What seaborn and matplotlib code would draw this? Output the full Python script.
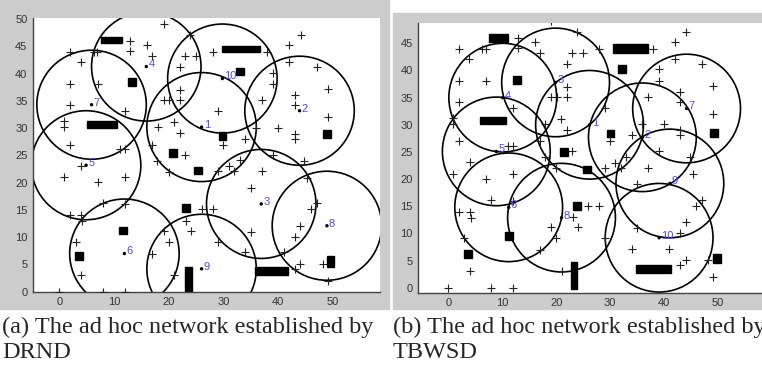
import matplotlib
matplotlib.use("Agg")
import matplotlib.pyplot as plt
import seaborn as sns
from matplotlib.patches import Circle, Rectangle

# sensor positions (same field in both runs)
SENSOR_X = [19.1, 12.9, 16.0, 12.9, 17.0, 1.9, 6.3, 6.9, 3.9, 1.9, 7.0, 1.9, 12.0, 0.9, 0.9, 1.9, 11.1, 12.0,
            18.0, 20.9, 22.0, 17.0, 23.0, 19.1, 20.1, 22.0, 22.0, 22.0, 23.0, 25.0, 23.8,
            28.0, 38.0, 44.1, 42.0, 42.0, 47.0, 39.0, 39.0, 49.1, 37.0, 43.0, 43.0, 49.1, 29.0, 40.0, 43.0, 43.0,
            36.0, 34.0, 30.0,
            44.8, 39.0, 33.0, 31.0, 32.0, 29.0, 37.1, 35.0, 45.3, 26.0, 28.0, 47.0, 46.0, 24.0, 35.0, 44.0, 43.0,
            29.0, 34.0, 41.0, 44.0, 43.0, 48.1, 49.1,
            0.9, 7.0, 12.0, 4.0, 8.0, 12.0, 2.0, 4.0, 4.2, 3.0, 4.0, 17.0, 20.0, 19.1, 21.0, 23.1, 17.9, 20.0,
            0.0, 8.0, 12.0]
SENSOR_Y = [49.1, 46.0, 45.2, 44.1, 43.2, 44.0, 44.0, 44.0, 42.2, 38.1, 38.1, 34.2, 33.1, 31.3, 30.2, 27.0, 26.1, 26.1,
            30.2, 31.1, 29.1, 27.0, 25.1, 35.2, 35.2, 35.2, 37.0, 41.2, 43.2, 43.2, 47.0,
            44.0, 44.0, 47.1, 45.2, 42.1, 41.2, 40.2, 38.1, 37.1, 35.2, 36.1, 34.2, 32.0, 33.1, 30.1, 29.0, 28.1,
            30.1, 28.1, 27.0,
            24.0, 25.1, 24.1, 23.0, 22.1, 22.1, 22.1, 19.1, 20.9, 15.1, 15.1, 16.2, 15.1, 11.1, 11.0, 12.1, 10.1,
            9.1, 7.2, 7.2, 5.1, 4.1, 5.1, 2.0,
            21.0, 20.1, 21.0, 23.1, 16.2, 16.0, 14.0, 14.0, 12.9, 9.1, 3.0, 7.0, 9.1, 11.1, 3.0, 13.0, 24.0, 22.0,
            0.0, 0.0, 0.0]

RANGE = 10  # communication radius

# cluster heads, (a) DRND
HEAD_A_X = [26.0, 43.9, 36.9, 15.9, 4.9, 11.9, 5.9, 48.9, 26.0, 29.8]
HEAD_A_Y = [30.2, 33.2, 16.1, 41.3, 23.2, 7.0, 34.3, 12.1, 4.2, 39.1]
# cluster heads, (b) TBWSD
HEAD_B_X = [26.2, 36.0, 19.9, 10.1, 8.9, 11.2, 44.2, 21.0, 41.1, 39.1]
HEAD_B_Y = [30.0, 27.7, 37.8, 35.0, 25.1, 14.8, 33.0, 12.9, 19.2, 9.2]

# obstacles: x0, x1, y0, y1
OBS_A_X0 = [7.7, 12.6, 5.1, 29.7, 32.3, 29.1, 48.2, 20.1, 24.7, 22.4, 11.0, 2.9, 23.0, 35.8, 48.9]
OBS_A_X1 = [11.4, 14.0, 10.5, 36.7, 33.7, 30.5, 49.6, 21.5, 26.1, 23.8, 12.4, 4.3, 24.3, 41.7, 50.2]
OBS_A_Y0 = [45.6, 37.8, 30.1, 43.9, 39.7, 27.9, 28.2, 24.7, 21.5, 14.7, 10.5, 5.9, -0.3, 3.1, 4.5]
OBS_A_Y1 = [46.8, 39.2, 31.4, 45.1, 41.1, 29.3, 29.6, 26.1, 22.9, 16.1, 11.9, 7.3, 4.6, 4.5, 6.6]

OBS_B_X0 = [7.6, 12.0, 5.9, 30.5, 31.5, 29.4, 48.6, 20.8, 25.0, 23.2, 10.6, 3.0, 22.7, 34.8, 49.1]
OBS_B_X1 = [11.1, 13.4, 10.7, 37.1, 32.9, 30.8, 50.0, 22.2, 26.4, 24.6, 12.0, 4.4, 23.8, 41.4, 50.5]
OBS_B_Y0 = [45.3, 37.6, 30.1, 43.3, 39.6, 27.7, 27.8, 24.3, 21.1, 14.3, 8.8, 5.5, -0.3, 2.7, 4.5]
OBS_B_Y1 = [46.7, 39.0, 31.4, 44.8, 41.0, 29.1, 29.2, 25.7, 22.5, 15.7, 10.2, 6.9, 4.8, 4.1, 6.2]

CAPTION_A = ["(a) The ad hoc network established by", "DRND"]
CAPTION_B = ["(b) The ad hoc network established by", "TBWSD"]

W, H = 762, 374
GRAY = "#cccccc"


def frac_axes(fig, left, top, right, bottom):
    return fig.add_axes([left / W, 1 - bottom / H, (right - left) / W, (bottom - top) / H])


def draw_panel(ax, hx, hy, ox0, ox1, oy0, oy1, xlim, ylim, yticks):
    ax.set_facecolor("white")
    for x0, x1, y0, y1 in zip(ox0, ox1, oy0, oy1):
        ax.add_patch(Rectangle((x0, y0), x1 - x0, y1 - y0, color="black", zorder=2))
    for x, y in zip(hx, hy):
        ax.add_patch(Circle((x, y), RANGE, fill=False, edgecolor="black", linewidth=1.2, zorder=2))
    sns.scatterplot(x=SENSOR_X, y=SENSOR_Y, marker="+", s=30, color="#222222",
                    linewidth=0.8, ax=ax, zorder=3)
    sns.scatterplot(x=hx, y=hy, s=6, color="black", edgecolor="none", ax=ax, zorder=4)
    for i, (x, y) in enumerate(zip(hx, hy)):
        ax.annotate(str(i + 1), (x, y), xytext=(1.5, 1.5), textcoords="offset points",
                    color="#4a4aff", fontsize=8, va="center", ha="left", zorder=5,
                    family="Liberation Sans")
    ax.set_xlim(*xlim)
    ax.set_ylim(*ylim)
    ax.set_xticks([0, 10, 20, 30, 40, 50])
    ax.set_yticks(yticks)
    ax.tick_params(direction="in", length=3, width=0.8, color="#444444",
                   labelsize=8, labelcolor="#333333", pad=4)
    for lab in ax.get_xticklabels() + ax.get_yticklabels():
        lab.set_family("Liberation Sans")
    for side in ["top", "right"]:
        ax.spines[side].set_visible(False)
    for side in ["left", "bottom"]:
        ax.spines[side].set_color("#444444")
        ax.spines[side].set_linewidth(1.0)
    ax.set_xlabel("")
    ax.set_ylabel("")


sns.set_style("white")
fig = plt.figure(figsize=(W / 100, H / 100), dpi=100)
fig.patch.set_facecolor("white")

# gray window backgrounds behind each panel
fig.patches.append(Rectangle((0, 1 - 309 / H), 388.5 / W, 309 / H, transform=fig.transFigure,
                             color=GRAY, zorder=-10))
fig.patches.append(Rectangle((393 / W, 1 - 309 / H), (W - 393) / W, (309 - 12.7) / H,
                             transform=fig.transFigure, color=GRAY, zorder=-10))

ax_a = frac_axes(fig, 33, 17.5, 380, 291.7)
draw_panel(ax_a, HEAD_A_X, HEAD_A_Y, OBS_A_X0, OBS_A_X1, OBS_A_Y0, OBS_A_Y1,
           (-4.8, 58.6), (0, 50.3), list(range(0, 51, 5)))

ax_b = frac_axes(fig, 418.3, 22.7, 775, 292.7)
draw_panel(ax_b, HEAD_B_X, HEAD_B_Y, OBS_B_X0, OBS_B_X1, OBS_B_Y0, OBS_B_Y1,
           (-5.57, 60.6), (-0.92, 48.8), list(range(0, 46, 5)))

for x0, lines in [(2, CAPTION_A), (393, CAPTION_B)]:
    fig.text(x0 / W, 1 - 333 / H, lines[0], family="Liberation Serif", fontsize=17.5, va="baseline")
    fig.text(x0 / W, 1 - 357.5 / H, lines[1], family="Liberation Serif", fontsize=17.5, va="baseline")

fig.savefig("out.png", dpi=100)
